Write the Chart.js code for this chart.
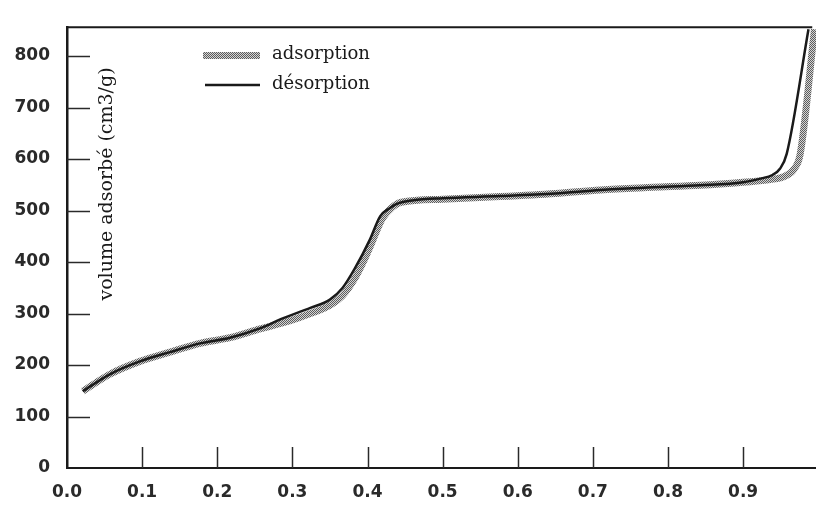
<!DOCTYPE html>
<html><head><meta charset="utf-8">
<script src="https://cdn.jsdelivr.net/npm/chart.js@4/dist/chart.umd.min.js"></script>
<style>html,body{margin:0;padding:0;background:#fff;}#wrap{width:816px;height:508px;}</style>
</head><body><div id="wrap"><canvas id="c" width="816" height="508"></canvas></div>
<script>
// ---- data ----
const xTickLabels = ['0.0','0.1','0.2','0.3','0.4','0.5','0.6','0.7','0.8','0.9'];
const yTickLabels = ['0','100','200','300','400','500','600','700','800'];
const seriesNames = ['adsorption','désorption'];
const yTitle = 'volume adsorbé (cm3/g)';

const adsX = [0.021,0.057,0.097,0.137,0.177,0.217,0.257,0.297,0.324,0.350,0.367,0.383,0.395,0.405,0.420,0.432,0.445,0.500,0.577,0.650,0.710,0.780,0.843,0.900,0.936,0.956,0.968,0.976,0.995];
const adsY = [149,182,207,225,242,253,270,286,300,316,335,368,402,435,485,505,516,522,527,533,540,545,549,555,560,567,581,610,852];

const desX = [0.021,0.057,0.097,0.137,0.177,0.217,0.257,0.288,0.324,0.350,0.367,0.383,0.403,0.417,0.430,0.439,0.461,0.500,0.577,0.650,0.710,0.780,0.843,0.900,0.923,0.939,0.949,0.958,0.987];
const desY = [149,182,207,225,242,253,271,291,311,327,350,387,443,489,505,513,520,524,528,533,540,545,549,555,562,569,581,610,852];

// ---- styling ----
const canvas = document.getElementById('c');
const ctx0 = canvas.getContext('2d');
function hatchCanvas(){
  const p = document.createElement('canvas'); p.width = 2; p.height = 2;
  const g = p.getContext('2d');
  g.fillStyle = '#d4d4d4'; g.fillRect(0,0,2,2);
  g.fillStyle = '#5c5c5c'; g.fillRect(0,0,1,1); g.fillRect(1,1,1,1);
  return p;
}
const hatch = ctx0.createPattern(hatchCanvas(), 'repeat');
const INK = '#1a1a1a';

const decor = {
  id: 'decor',
  afterDraw(chart){
    const {ctx, chartArea:a, scales:{x, y}} = chart;
    ctx.save();
    // top border
    ctx.strokeStyle = INK; ctx.lineWidth = 2;
    ctx.beginPath(); ctx.moveTo(a.left, a.top); ctx.lineTo(x.getPixelForValue(0.992), a.top); ctx.stroke();
    // inward ticks
    ctx.lineWidth = 1.5; ctx.strokeStyle = '#2a2a2a';
    yTickLabels.forEach(v => { const n = +v; if (n === 0) return;
      const py = Math.round(y.getPixelForValue(n)) + 0.5;
      ctx.beginPath(); ctx.moveTo(a.left, py); ctx.lineTo(a.left + 23, py); ctx.stroke(); });
    xTickLabels.forEach(v => { const n = parseFloat(v); if (n === 0) return;
      const px = Math.round(x.getPixelForValue(n)) + 0.5;
      ctx.beginPath(); ctx.moveTo(px, a.bottom); ctx.lineTo(px, a.bottom - 21); ctx.stroke(); });
    // legend
    ctx.font = '18px "DejaVu Serif"'; ctx.textBaseline = 'middle'; ctx.textAlign = 'left';
    ctx.fillStyle = hatch; ctx.fillRect(203, 52, 57, 7);
    ctx.strokeStyle = INK; ctx.lineWidth = 2.5;
    ctx.beginPath(); ctx.moveTo(205, 85); ctx.lineTo(260, 85); ctx.stroke();
    ctx.fillStyle = INK;
    ctx.fillText(seriesNames[0], 272, 54);
    ctx.fillText(seriesNames[1], 272, 84);
    // y title inside plot
    ctx.translate(107, 184); ctx.rotate(-Math.PI/2);
    ctx.font = '19px "DejaVu Serif"'; ctx.textAlign = 'center'; ctx.textBaseline = 'middle';
    ctx.fillText(yTitle, 0, 0);
    ctx.restore();
  }
};

new Chart(canvas, {
  type: 'line',
  data: {
    datasets: [
      { label: seriesNames[1], data: desX.map((v,i)=>({x:v, y:desY[i]})), borderColor: INK, borderWidth: 2.5,
        pointRadius: 0, cubicInterpolationMode: 'monotone', order: 0, fill: false },
      { label: seriesNames[0], data: adsX.map((v,i)=>({x:v, y:adsY[i]})), borderColor: hatch, borderWidth: 7,
        pointRadius: 0, cubicInterpolationMode: 'monotone', order: 1, fill: false }
    ]
  },
  options: {
    responsive: false, animation: false, events: [],
    layout: { padding: { top: 8, right: 0, left: 0, bottom: 0 } },
    plugins: { legend: { display: false }, tooltip: { enabled: false } },
    scales: {
      x: { type: 'linear', min: 0, max: 0.997,
        afterBuildTicks: s => { s.ticks = xTickLabels.map(v => ({ value: parseFloat(v) })); },
        afterFit: s => { s.height = 40; },
        grid: { display: false, drawTicks: false },
        border: { display: true, color: INK, width: 2 },
        ticks: { padding: 14, color: '#2a2a2a', font: { family: 'DejaVu Sans', size: 17, weight: 'bold' },
          callback: v => v.toFixed(1), autoSkip: false, maxRotation: 0 } },
      y: { type: 'linear', min: 0, max: 856,
        afterBuildTicks: s => { s.ticks = yTickLabels.map(v => ({ value: +v })); },
        afterFit: s => { s.width = 67; },
        grid: { display: false, drawTicks: false },
        border: { display: true, color: INK, width: 2.5 },
        ticks: { padding: 17, color: '#2a2a2a', font: { family: 'DejaVu Sans', size: 17, weight: 'bold' },
          callback: v => String(v), autoSkip: false } }
    }
  },
  plugins: [decor]
});
</script></body></html>
